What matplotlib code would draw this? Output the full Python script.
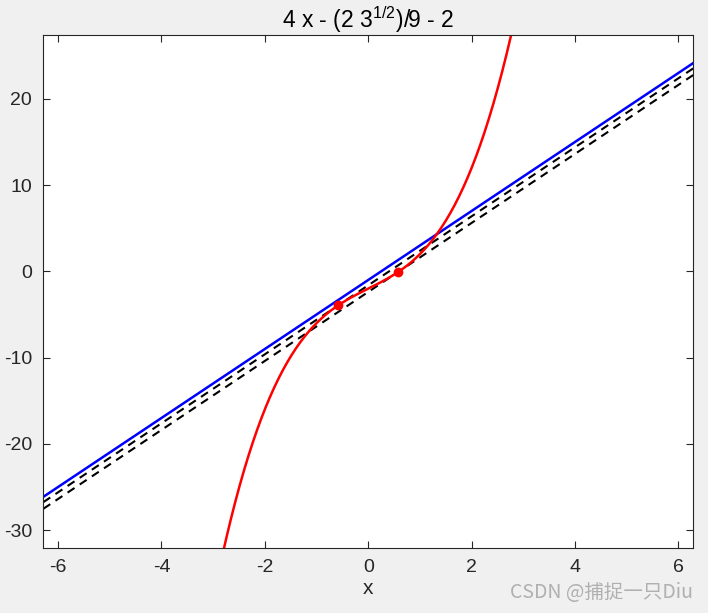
import numpy as np
import matplotlib.pyplot as plt

plt.rcParams['font.family'] = ['Liberation Sans', 'DejaVu Sans']
plt.rcParams['mathtext.default'] = 'regular'
plt.rcParams['axes.unicode_minus'] = False

# f(x) = x^3 + 3x - 2, drawn over [-2pi, 2pi]
poly_coef = [1, 0, 3, -2]
x_range = [-2 * np.pi, 2 * np.pi]
y_range = [-32.1, 27.4]

# tangent points (f'(x) = 4)
tan_x = [-1 / np.sqrt(3), 1 / np.sqrt(3)]
tan_slope = 4
blue_line = [4, -1]          # slope, intercept
x_ticks = [-6, -4, -2, 0, 2, 4, 6]
y_ticks = [-30, -20, -10, 0, 10, 20]

fig = plt.figure(figsize=(7.08, 6.13), dpi=100, facecolor='#f0f0f0')
ax = fig.add_axes([0.0612, 0.1055, 0.9178, 0.8375])

xs = np.linspace(x_range[0], x_range[1], 600)
ax.plot(xs, np.polyval(blue_line, xs), color='blue', lw=1.8)
for tx in tan_x:
    ty = np.polyval(poly_coef, tx)
    ax.plot(xs, tan_slope * (xs - tx) + ty, color='black', lw=1.5, ls=(0, (4, 3)))
ax.plot(xs, np.polyval(poly_coef, xs), color='red', lw=1.8)
ax.plot(tan_x, np.polyval(poly_coef, tan_x), 'o', color='red', ms=6)

ax.set_xlim(x_range)
ax.set_ylim(y_range)
ax.set_xticks(x_ticks)
ax.set_yticks(y_ticks)
ax.tick_params(direction='in', top=True, right=True, length=5, labelsize=14, color='#262626',
               labelcolor='#262626', pad=8)
for s in ax.spines.values():
    s.set_color('#262626')
    s.set_linewidth(0.8)

ax.set_title('4 x - (2 3$^{1/2}$)/9 - 2', fontsize=16.5, color='black', pad=5)
ax.set_xlabel('x', fontsize=15, color='#262626', labelpad=2)

fig.text(0.979, 0.016, 'CSDN @捕捉一只Diu', ha='right', va='bottom', fontsize=14,
         color='#b0b0b0', family=['Noto Sans CJK SC', 'DejaVu Sans'])

fig.savefig('out.png', dpi=100, facecolor=fig.get_facecolor())
